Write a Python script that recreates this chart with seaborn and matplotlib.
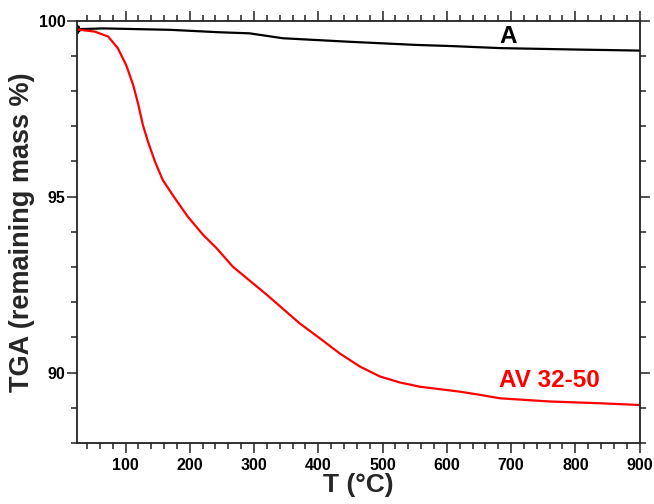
import numpy as np
import pandas as pd
import seaborn as sns
import matplotlib.pyplot as plt
from matplotlib.ticker import MultipleLocator

temp_a = [25, 26, 27, 28, 30, 65, 169, 247, 293, 345, 449, 553, 605, 683, 800, 900]
mass_a = [99.85, 99.65, 99.83, 99.70, 99.76, 99.78, 99.74, 99.67, 99.64, 99.50,
          99.40, 99.31, 99.28, 99.22, 99.18, 99.15]

temp_av = [25, 29, 52, 73, 88, 101, 112, 120, 127, 135, 146, 158, 177, 197, 221,
           242, 267, 320, 371, 402, 433, 465, 496, 527, 558, 589, 620, 651, 683,
           760, 838, 900]
mass_av = [99.75, 99.74, 99.69, 99.55, 99.22, 98.74, 98.17, 97.61, 97.04, 96.56,
           95.99, 95.47, 94.95, 94.43, 93.91, 93.53, 93.01, 92.21, 91.40, 90.98,
           90.55, 90.17, 89.89, 89.72, 89.60, 89.53, 89.46, 89.37, 89.27,
           89.18, 89.13, 89.08]

labels = ['A', 'AV 32-50']
colors = ['black', '#ff0000']

sns.set_style("ticks")
plt.rcParams['font.family'] = ['Liberation Sans', 'DejaVu Sans']
plt.rcParams['font.weight'] = 'bold'

fig = plt.figure(figsize=(6.54, 5.04), dpi=100)
ax = fig.add_axes([0.1182, 0.121, 0.978 - 0.1182, 0.959 - 0.121])

sns.lineplot(x=temp_a, y=mass_a, color=colors[0], lw=1.6, sort=False,
             estimator=None, ax=ax)
sns.lineplot(x=temp_av, y=mass_av, color=colors[1], lw=1.6, sort=False,
             estimator=None, ax=ax)

ax.set_xlim(25, 900)
ax.set_ylim(88, 100)
ax.xaxis.set_major_locator(MultipleLocator(100))
ax.xaxis.set_minor_locator(MultipleLocator(20))
ax.yaxis.set_major_locator(MultipleLocator(5))
ax.yaxis.set_minor_locator(MultipleLocator(1))

ax.tick_params(which='both', direction='out', top=True, right=True,
               labeltop=False, labelright=False, width=1.1, colors='#222222',
               labelcolor='black')
ax.tick_params(which='major', length=7, labelsize=11.5)
ax.tick_params(which='minor', length=4)
ax.tick_params(axis='x', which='major', pad=4)
ax.tick_params(axis='y', which='major', pad=1.5)
for lab in ax.get_xticklabels() + ax.get_yticklabels():
    lab.set_fontweight('bold')
for sp in ax.spines.values():
    sp.set_visible(True)
    sp.set_linewidth(1.3)
    sp.set_color('#222222')

ax.set_xlabel('T (°C)', fontsize=19, fontweight='bold', labelpad=0)
ax.set_ylabel('TGA (remaining mass %)', fontsize=19.5, fontweight='bold', labelpad=3)

ax.text(695, 99.54, labels[0], color=colors[0], fontsize=17.5, fontweight='bold',
        ha='center', va='center')
ax.text(760, 89.79, labels[1], color=colors[1], fontsize=17.5, fontweight='bold',
        ha='center', va='center')

fig.savefig('out.png', dpi=100)
